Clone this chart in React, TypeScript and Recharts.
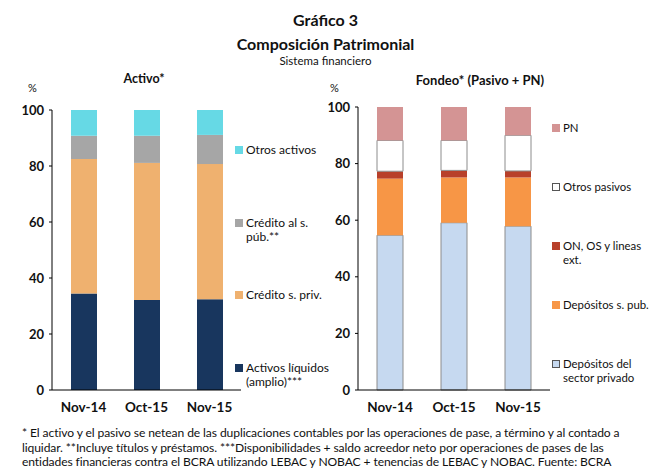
import { BarChart, Bar, XAxis, YAxis } from 'recharts'

const categories = ['Nov-14', 'Oct-15', 'Nov-15']

// Activo (%)
const activosLiquidos = [34.5, 32.1, 32.4]
const creditoPriv = [48.0, 49.0, 48.3]
const creditoPub = [8.3, 9.7, 10.4]
const otrosActivos = [9.2, 9.2, 8.9]

// Fondeo (%)
const depPriv = [54.7, 59.1, 57.9]
const depPub = [20.0, 16.0, 17.2]
const onOs = [2.6, 2.5, 2.3]
const otrosPasivos = [10.9, 10.6, 12.6]
const pn = [11.8, 11.8, 10.0]

const yTicks = [0, 20, 40, 60, 80, 100]

const activoData = categories.map((cat, i) => ({
  cat,
  liq: activosLiquidos[i],
  priv: creditoPriv[i],
  pub: creditoPub[i],
  otros: otrosActivos[i],
}))

const fondeoData = categories.map((cat, i) => ({
  cat,
  depPriv: depPriv[i],
  depPub: depPub[i],
  on: onOs[i],
  otros: otrosPasivos[i],
  pn: pn[i],
}))

const FONT = 'Lato, "Open Sans", sans-serif'

const activoLegend = [
  { label: ['Otros activos'], color: '#66D9E5', border: 'none' },
  { label: ['Crédito al s.', 'púb.**'], color: '#A6A6A6', border: 'none' },
  { label: ['Crédito s. priv.'], color: '#EFB16F', border: 'none' },
  { label: ['Activos líquidos', '(amplio)***'], color: '#18365E', border: 'none' },
]

const fondeoLegend = [
  { label: ['PN'], color: '#D49494', border: 'none' },
  { label: ['Otros pasivos'], color: '#FFFFFF', border: '1px solid #555' },
  { label: ['ON, OS y lineas', 'ext.'], color: '#B8402A', border: 'none' },
  { label: ['Depósitos s. pub.'], color: '#F79646', border: 'none' },
  { label: ['Depósitos del', 'sector privado'], color: '#C6D9F0', border: '1px solid #555' },
]

type Item = { label: string[]; color: string; border: string }

function SideLegend({ items, left, top, step, size }: { items: Item[]; left: number; top: number; step: number; size: number }) {
  return (
    <>
      {items.map((it, i) => (
        <div
          key={i}
          style={{
            position: 'absolute',
            left,
            top: top + i * step,
            display: 'flex',
            alignItems: 'flex-start',
            fontSize: size,
            lineHeight: '14px',
            color: '#111',
            whiteSpace: 'nowrap',
          }}
        >
          <span
            style={{
              display: 'inline-block',
              width: 8,
              height: 8,
              marginTop: 3,
              marginRight: 3,
              background: it.color,
              border: it.border,
              boxSizing: 'border-box',
              flexShrink: 0,
            }}
          />
          <span>
            {it.label.map((l, j) => (
              <div key={j}>{l}</div>
            ))}
          </span>
        </div>
      ))}
    </>
  )
}

const xTickStyle = { fontSize: 13.5, fontWeight: 700, fill: '#111', fontFamily: FONT }
const yTickStyle = { fontSize: 13, fontWeight: 700, fill: '#111', fontFamily: FONT }

export default function App() {
  return (
    <div
      style={{
        position: 'absolute',
        left: 0,
        top: 0,
        width: 651,
        height: 469,
        background: '#fff',
        fontFamily: FONT,
        color: '#111',
        overflow: 'hidden',
      }}
    >
      <div style={{ position: 'absolute', left: 0, width: 651, top: 10, textAlign: 'center', fontSize: 16, fontWeight: 700, lineHeight: '20px' }}>
        Gráfico 3
      </div>
      <div style={{ position: 'absolute', left: 0, width: 651, top: 34, textAlign: 'center', fontSize: 16, fontWeight: 700, lineHeight: '20px' }}>
        Composición Patrimonial
      </div>
      <div style={{ position: 'absolute', left: 0, width: 651, top: 53, textAlign: 'center', fontSize: 11.5, lineHeight: '15px' }}>
        Sistema financiero
      </div>

      <div style={{ position: 'absolute', left: 100, width: 88, top: 71, textAlign: 'center', fontSize: 12.5, fontWeight: 700 }}>
        Activo*
      </div>
      <div style={{ position: 'absolute', left: 370, width: 220, top: 72, textAlign: 'center', fontSize: 13, fontWeight: 700 }}>
        Fondeo* (Pasivo + PN)
      </div>
      <div style={{ position: 'absolute', left: 28, top: 81, fontSize: 11 }}>%</div>
      <div style={{ position: 'absolute', left: 330, top: 81, fontSize: 11 }}>%</div>

      <div style={{ position: 'absolute', left: 0, top: 0 }}>
        <BarChart width={330} height={420} data={activoData} margin={{ top: 110, right: 89, bottom: 10, left: 22 }}>
          <XAxis
            dataKey='cat'
            axisLine={{ stroke: '#000' }}
            tickLine={false}
            tick={xTickStyle}
            height={20}
            tickMargin={6}
          />
          <YAxis
            domain={[0, 100]}
            ticks={yTicks}
            width={30}
            axisLine={{ stroke: '#000' }}
            tickLine={{ stroke: '#000' }}
            tickSize={3}
            tickMargin={5}
            tick={yTickStyle}
          />
          <Bar dataKey='liq' stackId='a' fill='#18365E' barSize={26} isAnimationActive={false} />
          <Bar dataKey='priv' stackId='a' fill='#EFB16F' barSize={26} isAnimationActive={false} />
          <Bar dataKey='pub' stackId='a' fill='#A6A6A6' barSize={26} isAnimationActive={false} />
          <Bar dataKey='otros' stackId='a' fill='#66D9E5' barSize={26} isAnimationActive={false} />
        </BarChart>
      </div>

      <div style={{ position: 'absolute', left: 320, top: 0 }}>
        <BarChart width={331} height={420} data={fondeoData} margin={{ top: 107, right: 101, bottom: 10, left: 8 }}>
          <XAxis
            dataKey='cat'
            axisLine={{ stroke: '#000' }}
            tickLine={false}
            tick={xTickStyle}
            height={20}
            tickMargin={6}
          />
          <YAxis
            domain={[0, 100]}
            ticks={yTicks}
            width={30}
            axisLine={{ stroke: '#000' }}
            tickLine={{ stroke: '#000' }}
            tickSize={3}
            tickMargin={5}
            tick={yTickStyle}
          />
          <Bar dataKey='depPriv' stackId='b' fill='#C6D9F0' stroke='#8C8C8C' strokeWidth={1} barSize={26} isAnimationActive={false} />
          <Bar dataKey='depPub' stackId='b' fill='#F79646' barSize={26} isAnimationActive={false} />
          <Bar dataKey='on' stackId='b' fill='#B8402A' barSize={26} isAnimationActive={false} />
          <Bar dataKey='otros' stackId='b' fill='#FFFFFF' stroke='#8C8C8C' strokeWidth={1} barSize={26} isAnimationActive={false} />
          <Bar dataKey='pn' stackId='b' fill='#D49494' barSize={26} isAnimationActive={false} />
        </BarChart>
      </div>

      <SideLegend items={activoLegend} left={235} top={143} step={72.7} size={12} />
      <SideLegend items={fondeoLegend} left={552} top={121} step={59} size={11.4} />

      <div style={{ position: 'absolute', left: 22, top: 426, fontSize: 12.1, lineHeight: '14.5px', whiteSpace: 'nowrap', letterSpacing: -0.1 }}>
        <div>* El activo y el pasivo se netean de las duplicaciones contables por las operaciones de pase, a término y al contado a</div>
        <div>liquidar. **Incluye títulos y préstamos. ***Disponibilidades + saldo acreedor neto por operaciones de pases de las</div>
        <div>entidades financieras contra el BCRA utilizando LEBAC y NOBAC + tenencias de LEBAC y NOBAC. Fuente: BCRA</div>
      </div>
    </div>
  )
}
